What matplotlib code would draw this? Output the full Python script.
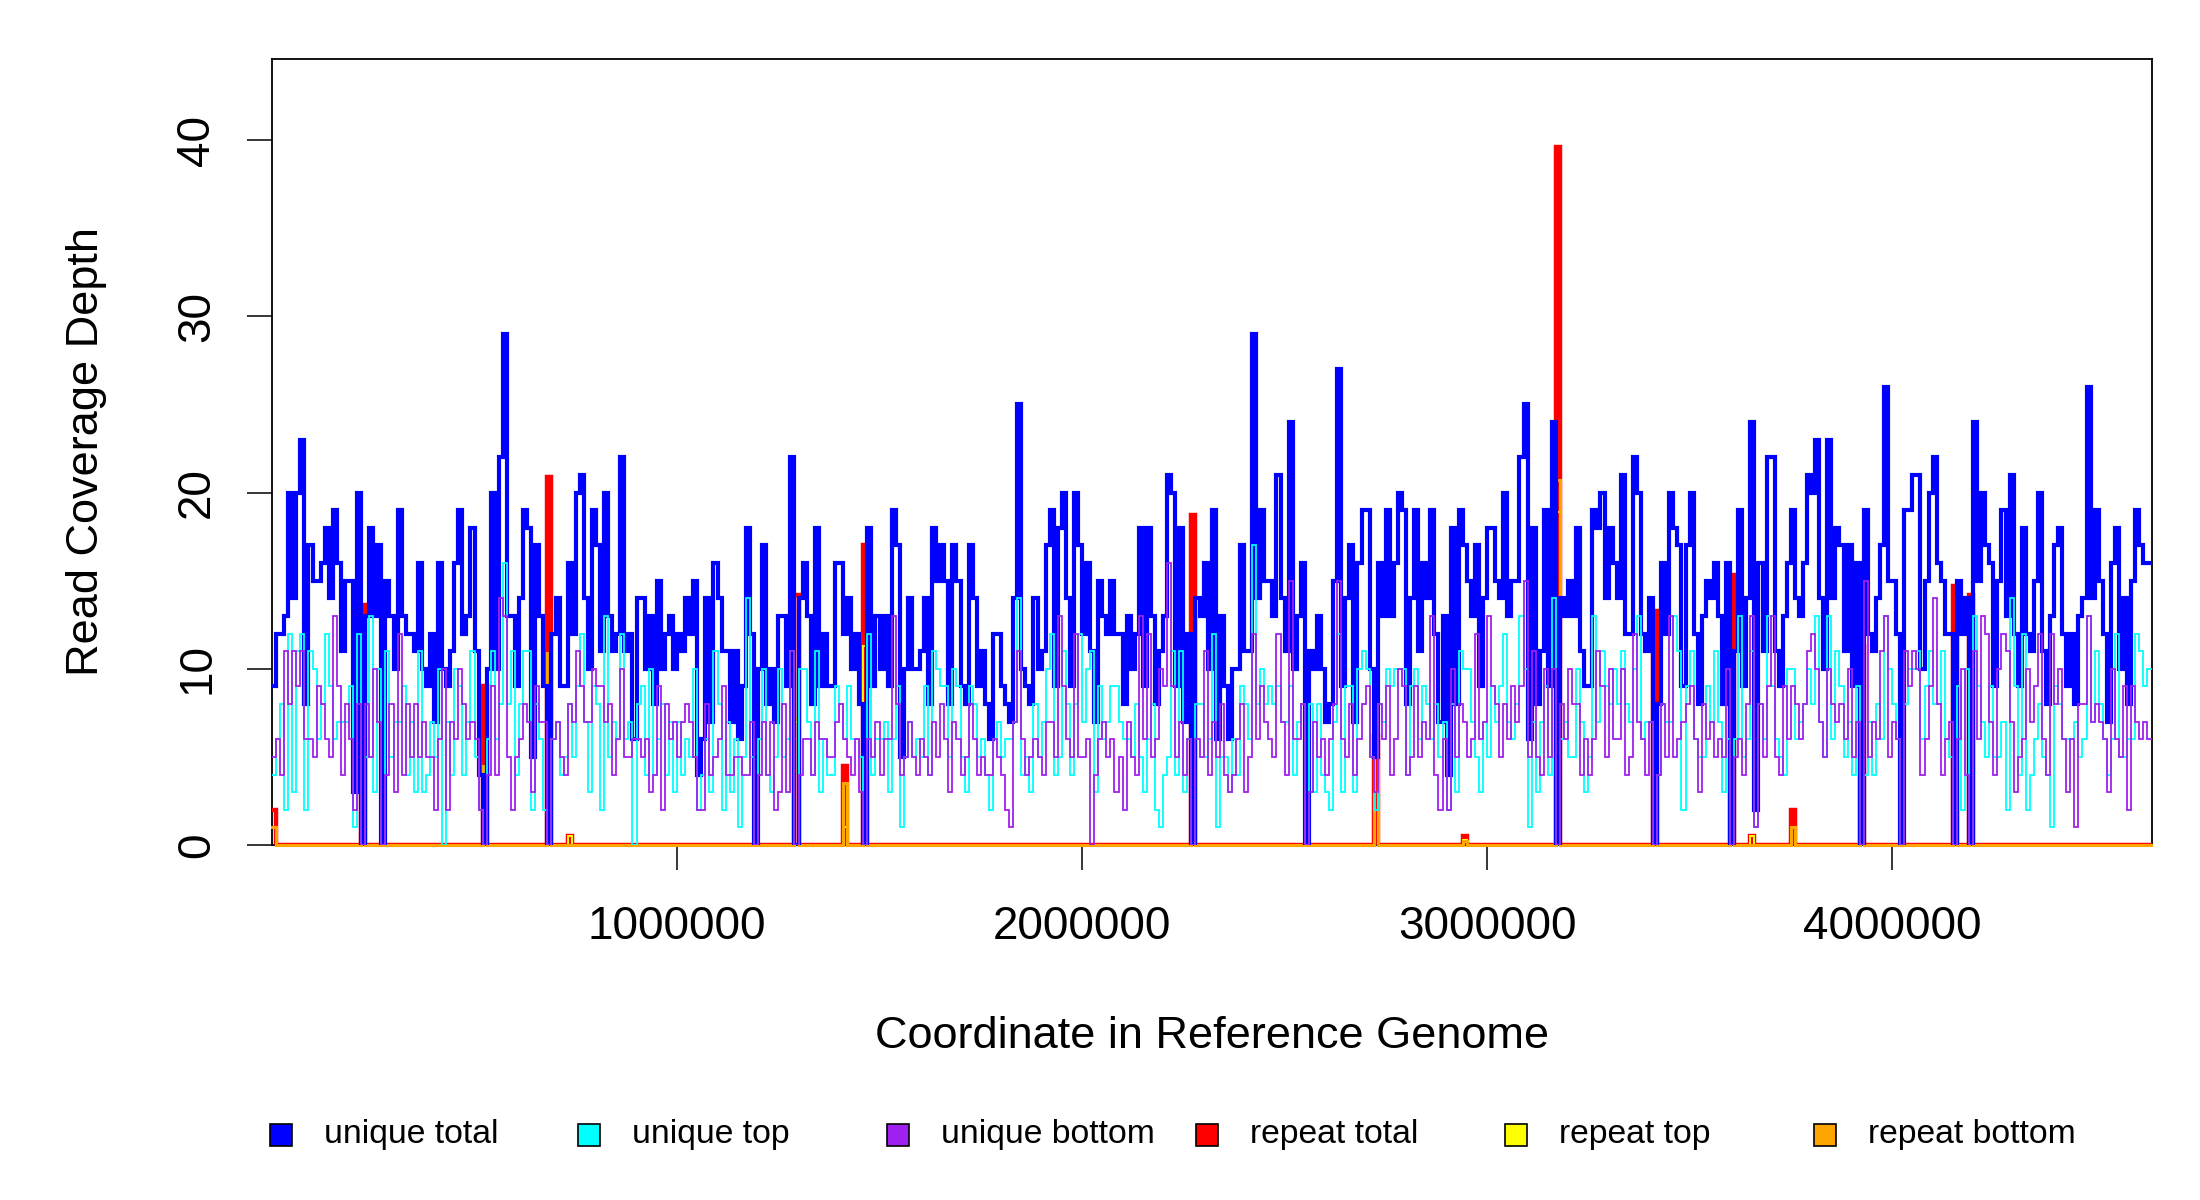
import numpy as np
import matplotlib
matplotlib.use("Agg")
import matplotlib.pyplot as plt
from matplotlib.patches import Rectangle

plt.rcParams['font.family'] = ['Liberation Sans', 'DejaVu Sans']

bin_size = 10000
genome_length = 4641652

# unique read depth per 10 kb bin (total) in 7 stretches
total_1 = [9,12,12,13,20,14,20,23,8,17,15,15,16,18,14,19,16,11,15,15,3,20,0,13,18,13,17,0,15,13,10,19,13,12,12,
           11,16,10,9,12,7,16,10,9,11,16,19,12,13,18,11,4,0,10,20,10,22,29,13,13,9,14,19,18,5,17,13,9,0]
total_2 = [12,14,9,9,16,12,20,21,14,10,19,17,11,20,13,11,12,22,11,12,6,14,14,10,13,8,15,10,12,13,10,12,11,14,12,
           15,4,6,14,7,16,14,11,11,7,11,6,9,18,12,0,10,17,8,10,7,13,13,9,22,0,14,16,13,8,18,9,12,9]
total_3 = [9,16,16,12,14,10,12,8,0,18,9,13,10,13,9,19,17,5,10,14,10,10,11,14,8,18,15,17,15,8,17,15,9,8,17,
           14,9,11,8,6,12,12,9,8,7,14,25,10,9,8,14,10,11,17,19,9,18,20,14,9,20,17,12,16,11,7,15,13,12]
total_4 = [15,12,12,8,13,10,12,18,9,18,13,8,11,13,21,20,9,18,7,12,0,14,13,16,10,19,6,13,9,6,10,10,17,11,11,
           29,14,19,15,15,13,21,14,11,24,10,13,16,0,11,10,13,10,7,8,15,27,9,14,17,7,16,19,19,10,5,16,13,19]
total_5 = [13,16,20,19,8,14,19,11,16,14,19,12,7,13,4,18,8,19,17,15,13,17,9,14,18,18,15,14,20,13,15,15,22,25,6,
           18,8,11,19,9,24,0,14,13,15,13,18,11,9,9,19,18,20,14,18,16,14,21,12,12,22,20,12,11,14,0,8,16,12]
total_6 = [20,18,17,9,17,20,12,8,13,15,14,16,13,8,16,0,11,19,9,14,24,2,16,11,22,22,11,9,13,16,19,14,13,16,21,
           20,23,14,10,23,14,18,17,11,17,9,16,0,19,12,11,14,17,26,15,15,12,0,19,19,21,21,10,15,20,22,16,15,12]
total_7 = [12,0,15,12,14,0,24,15,20,17,16,9,15,19,13,21,12,9,18,12,11,15,20,11,8,13,17,18,12,9,12,8,13,14,26,
           14,19,15,12,7,16,18,10,14,8,15,19,17,16,16]

# unique reads on the bottom strand, same bins
bottom_1 = [5,6,4,11,8,11,9,11,6,6,5,9,8,6,5,13,9,4,8,6,2,8,0,8,5,10,7,0,4,8,3,12,4,8,5,
            8,5,7,5,5,2,6,10,2,7,6,10,8,6,7,6,2,0,4,9,4,14,13,5,2,5,6,8,7,3,9,7,7,0]
bottom_2 = [6,7,5,4,8,7,11,9,7,7,10,9,9,7,8,4,6,10,5,5,6,6,5,6,3,4,9,2,8,6,7,5,7,8,7,
            5,2,2,8,4,5,6,9,4,4,5,5,4,4,7,0,4,7,4,7,2,3,8,3,11,0,4,6,6,4,7,6,6,5]
bottom_3 = [5,7,8,6,5,4,6,3,0,6,5,7,4,6,6,13,8,4,5,7,5,4,6,5,4,7,5,8,6,3,7,6,4,5,8,
            6,4,5,4,4,6,5,4,2,1,7,11,6,4,5,6,5,4,7,7,5,13,9,6,5,12,5,5,6,0,4,6,7,5]
bottom_4 = [6,3,5,2,7,5,4,13,6,12,5,6,10,9,16,9,5,7,4,6,0,6,5,11,4,7,5,8,4,3,4,6,8,3,5,
            12,6,9,7,6,5,12,7,4,15,6,6,8,0,3,7,5,6,4,6,8,15,6,5,8,4,6,8,9,5,3,8,6,9]
bottom_5 = [4,6,10,9,4,5,9,5,7,6,13,4,2,6,2,10,5,8,7,5,6,12,6,7,13,9,8,5,8,6,9,7,9,15,5,
            11,5,4,10,5,10,0,8,6,10,8,8,4,6,4,6,11,9,5,10,6,6,10,4,5,12,7,6,4,7,0,4,8,5]
bottom_6 = [13,5,6,7,8,9,6,3,8,6,7,5,6,5,10,0,5,6,4,8,13,1,8,5,9,13,5,4,9,6,9,8,6,8,11,
            12,10,7,5,10,8,7,8,6,10,5,7,0,15,5,7,6,11,13,5,7,6,0,11,9,11,10,4,6,9,14,8,4,6]
bottom_7 = [7,0,6,10,4,0,11,6,13,12,7,4,10,12,11,7,3,5,6,10,7,9,12,6,4,12,8,10,6,3,6,1,8,8,13,
            7,8,7,6,3,10,6,5,9,2,9,7,6,7,6]

# repeat reads only show up in a handful of bins
repeat_bins   = [0, 22, 52, 68, 73, 129, 141, 146, 227, 272, 294, 317, 341, 360, 365, 375, 392, 415, 419]
repeat_total  = [2.0, 13.6, 9.0, 20.9, 0.5, 14.2, 4.5, 17.0, 18.7, 6.2, 0.5, 39.6, 13.3, 15.3, 0.5, 2.0, 11.3, 14.7, 14.2]
repeat_top    = [1.0, 6.8, 4.5, 10.0, 0.5, 7.0, 1.0, 11.3, 9.0, 3.0, 0.3, 18.9, 6.6, 7.6, 0.5, 1.0, 5.6, 7.0, 7.0]
repeat_bottom = [1.0, 6.8, 4.5, 10.9, 0.0, 7.2, 3.5, 5.7, 9.7, 5.8, 0.2, 20.7, 6.7, 7.7, 0.0, 1.0, 5.7, 7.7, 7.2]

legend_labels = ["unique total", "unique top", "unique bottom", "repeat total", "repeat top", "repeat bottom"]
legend_colors = ["#0000FF", "#00FFFF", "#A020F0", "#FF0000", "#FFFF00", "#FFA500"]

# %%
u_total = np.array(total_1 + total_2 + total_3 + total_4 + total_5 + total_6 + total_7, dtype=float)
u_bottom = np.array(bottom_1 + bottom_2 + bottom_3 + bottom_4 + bottom_5 + bottom_6 + bottom_7, dtype=float)
u_top = np.clip(u_total - u_bottom, 0, None)

n = len(u_total)
r_total = np.zeros(n)
r_top = np.zeros(n)
r_bottom = np.zeros(n)
r_total[repeat_bins] = repeat_total
r_top[repeat_bins] = repeat_top
r_bottom[repeat_bins] = repeat_bottom

x = np.arange(n + 1) * bin_size


def step(ax, vals, color, lw, z, clip=True):
    ax.plot(x, np.append(vals, vals[-1]), drawstyle="steps-post", color=color,
            lw=lw, zorder=z, clip_on=clip, solid_joinstyle="miter")


fig = plt.figure(figsize=(22, 12), dpi=100)
ax = fig.add_axes([272 / 2200, 1 - 845 / 1200, 1880 / 2200, 786 / 1200])

# repeats sit above the frame line but under the unique traces
step(ax, r_total, legend_colors[3], 3.2, 2.6)
step(ax, r_top, legend_colors[4], 1.4, 2.7, clip=False)
step(ax, r_bottom, legend_colors[5], 2.2, 2.8, clip=False)
step(ax, u_total, legend_colors[0], 3.0, 3)
step(ax, u_top, legend_colors[1], 1.3, 4)
step(ax, u_bottom, legend_colors[2], 1.3, 5)

ax.set_xlim(0, genome_length)
ax.set_ylim(0, 44.6)
ax.set_xticks([1000000, 2000000, 3000000, 4000000])
ax.set_xticklabels(["1000000", "2000000", "3000000", "4000000"])
ax.set_yticks([0, 10, 20, 30, 40])
ax.set_yticklabels(["0", "10", "20", "30", "40"], rotation=90, va="center")
ax.tick_params(axis="both", direction="out", length=18, width=1.1, labelsize=33, color="black")
ax.tick_params(axis="x", pad=25)
ax.tick_params(axis="y", pad=20)
for s in ax.spines.values():
    s.set_linewidth(1.3)

fig.text(0.5 * (272 + 2152) / 2200, 1 - 1036 / 1200, "Coordinate in Reference Genome",
         fontsize=32.5, ha="center", va="center")
fig.text(87 / 2200, 1 - 452 / 1200, "Read Coverage Depth", fontsize=32.5,
         rotation=90, ha="center", va="center")

# legend row under the plot
for i, (lab, col) in enumerate(zip(legend_labels, legend_colors)):
    cx = (280.6 + i * 308.8) / 2200
    cy = 1 - 1135 / 1200
    fig.patches.append(Rectangle((cx - 11 / 2200, cy - 11 / 1200), 22 / 2200, 22 / 1200,
                                 transform=fig.transFigure, facecolor=col,
                                 edgecolor="black", lw=1.2))
    fig.text(cx + 43 / 2200, cy, lab, fontsize=24.3, ha="left", va="center")

fig.savefig("out.png", dpi=100)
